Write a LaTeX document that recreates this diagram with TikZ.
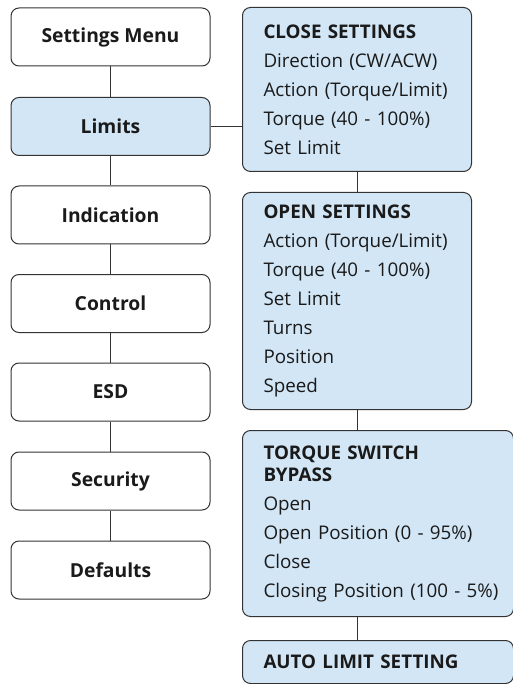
\documentclass[tikz,border=0pt]{standalone}
\usepackage{fontspec}
\setmainfont{Open Sans}
\definecolor{boxblue}{HTML}{D2E6F6}
\definecolor{edgegray}{HTML}{333333}
\definecolor{txt}{HTML}{1A1A1A}
\begin{document}
\begin{tikzpicture}[x=1pt,y=-1pt,
  menubox/.style={draw=edgegray, line width=1pt, rounded corners=8pt, fill=white,
    minimum width=199pt, minimum height=58pt, inner sep=0pt, text=txt,
    font=\bfseries\fontsize{19.3}{22}\selectfont},
  selbox/.style={menubox, fill=boxblue},
  subbox/.style={draw=edgegray, line width=1pt, rounded corners=8pt, fill=boxblue,
    anchor=north west, inner xsep=21pt, inner ysep=0pt, text width=187pt, align=left,
    text=txt, font=\fontsize{18.8}{22}\selectfont},
  widebox/.style={subbox, text width=229pt},
  link/.style={draw=edgegray, line width=1pt}]
\useasboundingbox (0,0) rectangle (512,684);
% left menu
\node[menubox] (menu) at (110.5,37) {Settings Menu};
\node[selbox]  (limits) at (110.5,126.5) {Limits};
\node[menubox] (indic) at (110.5,215) {Indication};
\node[menubox] (control) at (110.5,303.5) {Control};
\node[menubox] (esd) at (110.5,392) {ESD};
\node[menubox] (security) at (110.5,481) {Security};
\node[menubox] (defaults) at (110.5,570) {Defaults};
\draw[link] (menu) -- (limits);
\draw[link] (limits) -- (indic);
\draw[link] (indic) -- (control);
\draw[link] (control) -- (esd);
\draw[link] (esd) -- (security);
\draw[link] (security) -- (defaults);
% right boxes
\node[subbox, minimum height=164pt] (close) at (242,7)
  {\textbf{CLOSE SETTINGS}\\[7pt]Direction (CW/ACW)\\[7pt]Action (Torque/Limit)\\[7pt]Torque (40 - 100\%)\\[7pt]Set Limit};
\node[subbox, minimum height=217pt] (open) at (242,192)
  {\textbf{OPEN SETTINGS}\\[7pt]Action (Torque/Limit)\\[7pt]Torque (40 - 100\%)\\[7pt]Set Limit\\[7pt]Turns\\[7pt]Position\\[7pt]Speed};
\node[widebox, minimum height=186pt] (bypass) at (242,430)
  {\textbf{TORQUE SWITCH}\\\textbf{BYPASS}\\[7pt]Open\\[7pt]Open Position (0 - 95\%)\\[7pt]Close\\[7pt]\mbox{Closing Position (100 - 5\%)}};
\node[widebox, minimum height=43pt] (auto) at (242,640)
  {\textbf{AUTO LIMIT SETTING}};
\draw[link] (limits.east) -- (limits.east -| close.west);
\draw[link] (close) -- (open);
\draw[link] (open.south) -- (open.south |- bypass.north);
\draw[link] (open.south |- bypass.south) -- (open.south |- auto.north);
\end{tikzpicture}
\end{document}
